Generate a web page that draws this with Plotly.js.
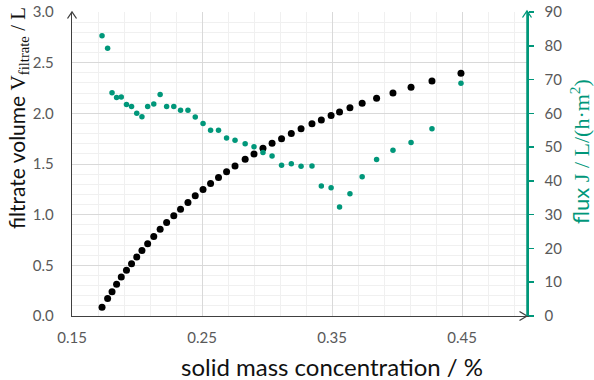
<!DOCTYPE html>
<html>
<head>
<meta charset="utf-8">
<script src="https://cdn.plot.ly/plotly-3.0.1.min.js"></script>
<style>html,body{margin:0;padding:0;background:#fff;}</style>
</head>
<body>
<div id="chart" style="width:594px;height:380px;"></div>
<script>
// solid mass concentration / %
const concentration = [0.1731,0.1774,0.1808,0.1843,0.1879,0.1919,0.1958,0.1998,0.2038,0.2082,
  0.2129,0.2178,0.2228,0.2283,0.2335,0.2392,0.2448,0.2508,0.2566,0.2627,
  0.2689,0.2754,0.2832,0.2900,0.2969,0.3039,0.3112,0.3187,0.3262,0.3346,
  0.3418,0.3493,0.3558,0.3638,0.3732,0.3843,0.3969,0.4108,0.4269,0.4492];
// filtrate volume / L
const filtrateVolume = [0.086,0.173,0.240,0.313,0.385,0.452,0.516,0.582,0.647,0.714,
  0.785,0.856,0.923,0.989,1.054,1.120,1.187,1.248,1.308,1.367,
  1.424,1.480,1.546,1.599,1.655,1.704,1.749,1.801,1.847,1.898,
  1.934,1.979,2.013,2.055,2.099,2.148,2.201,2.257,2.319,2.395];
// flux J / L/(h·m²)
const flux = [83.0,79.3,66.1,64.7,64.8,62.6,62.0,60.0,59.0,62.0,
  62.8,65.6,62.0,62.0,60.9,60.9,58.9,57.0,55.0,55.0,
  52.7,52.0,51.0,50.1,48.4,47.4,44.6,45.1,44.3,44.4,
  38.5,38.0,32.3,36.2,41.2,46.3,49.1,51.4,55.4,68.9];
const xTickVals = [0.15,0.25,0.35,0.45];

const TEAL = '#00977A';
const GRAY = '#595959';
const W = 594, H = 380, ML = 72, MR = 67, MT = 12, MB = 64;
const PW = W - ML - MR, PH = H - MT - MB;
const px = v => (v - ML) / PW;
const py = v => (H - MB - v) / PH;

const traces = [
  {x: concentration, y: filtrateVolume, type: 'scatter', mode: 'markers',
   marker: {color: '#000000', size: 7}, yaxis: 'y', hoverinfo: 'skip'},
  {x: concentration, y: flux, type: 'scatter', mode: 'markers',
   marker: {color: TEAL, size: 5.5}, yaxis: 'y2', hoverinfo: 'skip'}
];

function chevron(tip, a, b, color) {
  return {type: 'path', xref: 'paper', yref: 'paper', layer: 'above',
    path: `M ${px(a[0])} ${py(a[1])} L ${px(tip[0])} ${py(tip[1])} L ${px(b[0])} ${py(b[1])}`,
    line: {color: color, width: 1.3}};
}

const tickFont = {family: 'Lato, Open Sans, sans-serif', size: 15, color: GRAY};
const serif = 'font-family:Liberation Serif, serif';

const layout = {
  width: W, height: H,
  margin: {l: ML, r: MR, t: MT, b: MB, pad: 0},
  paper_bgcolor: '#ffffff', plot_bgcolor: '#ffffff',
  showlegend: false,
  xaxis: {
    range: [0.15, 0.5], tickvals: xTickVals, ticktext: xTickVals.map(v => v.toFixed(2)),
    showgrid: true, gridcolor: '#d9d9d9', gridwidth: 1,
    minor: {tick0: 0.15, dtick: 0.02, showgrid: true, gridcolor: '#f0f0f0', gridwidth: 1},
    showline: true, linecolor: '#404040', linewidth: 1.3,
    ticks: '', zeroline: false, tickfont: tickFont, ticklabelstandoff: 8
  },
  yaxis: {
    range: [0, 3], dtick: 0.5, tick0: 0, tickformat: '.1f',
    showgrid: true, gridcolor: '#d9d9d9', gridwidth: 1,
    minor: {dtick: 0.1, showgrid: true, gridcolor: '#f0f0f0', gridwidth: 1},
    showline: true, linecolor: '#404040', linewidth: 1.3,
    ticks: '', zeroline: false, tickfont: tickFont, ticklabelstandoff: 14
  },
  yaxis2: {
    overlaying: 'y', side: 'right', anchor: 'x',
    range: [0, 90], dtick: 10, tick0: 0,
    showgrid: false, zeroline: false,
    showline: true, linecolor: TEAL, linewidth: 1.5,
    ticks: 'outside', ticklen: 5, tickwidth: 1.5, tickcolor: TEAL,
    tickfont: tickFont, ticklabelstandoff: 8
  },
  shapes: [
    chevron([72, 12], [67.5, 18.5], [76.5, 18.5], '#404040'),
    chevron([527, 316], [519.5, 311.5], [519.5, 320.5], '#404040'),
    chevron([527, 11], [522.5, 17.5], [531.5, 17.5], TEAL),
    {type: 'line', xref: 'paper', yref: 'paper', x0: 1, x1: 1, y0: 0, y1: py(11),
     line: {color: TEAL, width: 1.5}, layer: 'above'}
  ],
  annotations: [
    {text: 'solid mass concentration / %', xref: 'paper', yref: 'paper',
     x: px(332), y: py(366), xanchor: 'center', yanchor: 'middle', showarrow: false,
     font: {family: 'Lato, Open Sans, sans-serif', size: 24, color: '#111111'}},
    {text: `filtrate volume <span style="${serif}">V</span><sub><span style="${serif}">filtrate</span></sub><span style="${serif}"> / L</span>`,
     xref: 'paper', yref: 'paper', x: px(18), y: py(118), xanchor: 'center', yanchor: 'middle',
     textangle: -90, showarrow: false,
     font: {family: 'Lato, Open Sans, sans-serif', size: 21, color: '#111111'}},
    {text: `flux <span style="${serif}">J / L/(h·m</span><sup><span style="${serif}">2</span></sup><span style="${serif}">)</span>`,
     xref: 'paper', yref: 'paper', x: px(580), y: py(152), xanchor: 'center', yanchor: 'middle',
     textangle: -90, showarrow: false,
     font: {family: 'Lato, Open Sans, sans-serif', size: 22, color: TEAL}}
  ]
};

Plotly.newPlot('chart', traces, layout, {staticPlot: true, displayModeBar: false});
</script>
</body>
</html>
